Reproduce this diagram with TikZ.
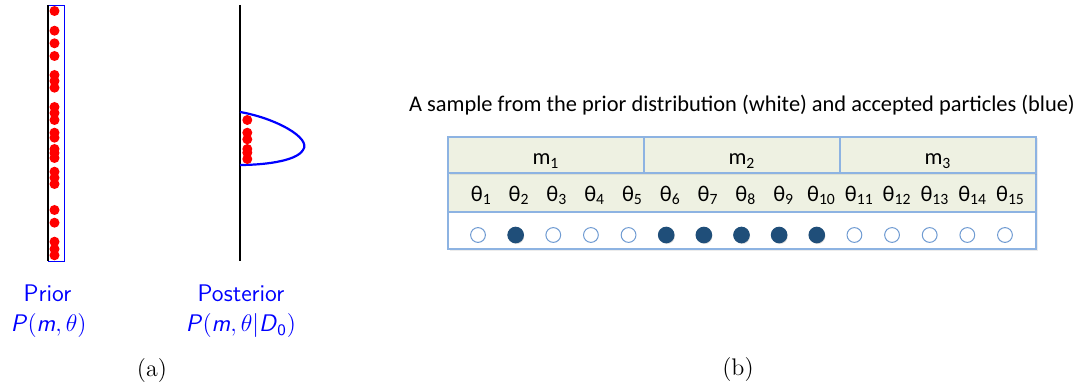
\documentclass[tikz,border=0pt]{standalone}
\usepackage{fontspec}
\newfontfamily\calibri{Carlito}
\usepackage{xcolor}
\usetikzlibrary{
    arrows.meta,
    shapes,
    positioning,
    shadows,
    calc
}
\definecolor{cellfill}{HTML}{EEF1E2}
\definecolor{cellline}{HTML}{8DB3E2}
\definecolor{ringblue}{HTML}{6F9BD2}
\definecolor{dotnavy}{HTML}{1F4E79}
\newcommand{\sfit}[1]{\textsf{\textit{#1}}}
\tikzset{%
    % Specifications for style of nodes:
    plain/.style = {inner sep=0pt, outer sep=0pt},
    particle/.style = {plain, circle, fill=red, minimum size=5pt},
    caption/.style = {plain, font=\fontsize{12}{14}\selectfont\sffamily, text=blue, anchor=base},
    sublabel/.style = {plain, font=\fontsize{12}{14}\selectfont, anchor=base},
    cell/.style = {
        plain,
        rectangle, draw=cellline, line width=0.9pt, fill=cellfill,
        drop shadow={opacity=0.15, shadow xshift=0.8pt, shadow yshift=-0.8pt}
    },
    tab/.style = {plain, font=\fontsize{11.2}{13}\selectfont\calibri, anchor=base},
    ring/.style = {plain, circle, minimum size=7.4pt, draw=ringblue, line width=0.5pt, fill=white},
    accepted/.style = {
        ring, minimum size=7.8pt, draw=dotnavy, fill=dotnavy,
        drop shadow={opacity=0.3, shadow xshift=0.4pt, shadow yshift=-0.6pt}
    }
}

\begin{document}
\begin{tikzpicture}[x=0.5pt, y=-0.5pt]
    \useasboundingbox (0,0) rectangle (1085,389);
    % (a) prior and posterior
    \draw[blue, line width=0.4pt] (48,5) rectangle (64,261);
    \draw[line width=1.2pt] (48,5) -- (48,261);
    \foreach \y [count=\i] in {11,30.7,43.3,56,75,81,87.7,107,113,120,132.7,137.7,
        149,153,158,171.7,177.7,184,210,222.7,241.7,249,255.3}
        \node[particle] (prior\i) at (54.5,\y) {};
    \draw[line width=1.2pt] (240,5) -- (240,261);
    \draw[blue, line width=1.1pt] (240,112) .. controls (275,118) and (312,138) .. (303,150)
        .. controls (296,162) and (260,165) .. (240,165);
    \foreach \y [count=\i] in {120,132.7,139.3,149,152.7,159}
        \node[particle] (post\i) at (247.3,\y) {};
    \node[caption] (priorname) at (47.5,301.7) {Prior};
    \node[caption] (priorlaw) at (48.7,331.7) {$\sfit{P}(\sfit{m},\theta)$};
    \node[caption] (postname) at (241,301.7) {Posterior};
    \node[caption] (postlaw) at (241,331.7) {$\sfit{P}(\sfit{m},\theta|\sfit{D}_{\mathsf{0}})$};
    \node[sublabel] (suba) at (152,376) {(a)};
    % (b) sample table
    \node[tab] (title) at (742,111.7) {A sample from the prior distribution (white) and accepted particles (blue)};
    \node[cell, fill=white, minimum width=294pt, minimum height=18.65pt] (dotrow) at (742,230.35) {};
    \node[cell, minimum width=294pt, minimum height=19.35pt] (thetarow) at (742,192.35) {};
    \foreach \i in {1,2,3} {
        \node[cell, minimum width=98pt, minimum height=18.15pt] (m\i) at ({350+\i*196},154.85) {};
        \node[tab] (mlab\i) at ({350+\i*196},165) {m\textsubscript{\i}};
    }
    \foreach \i in {1,...,15}
        \node[tab] (theta\i) at ({481.3+(\i-1)*37.8},201.7) {θ\textsubscript{\i}};
    \foreach \i/\s in {1/ring,2/accepted,3/ring,4/ring,5/ring,6/accepted,7/accepted,8/accepted,
        9/accepted,10/accepted,11/ring,12/ring,13/ring,14/ring,15/ring}
        \node[\s] (part\i) at ({478+(\i-1)*37.64},235) {};
    \node[sublabel] (subb) at (738,375) {(b)};
\end{tikzpicture}
\end{document}
